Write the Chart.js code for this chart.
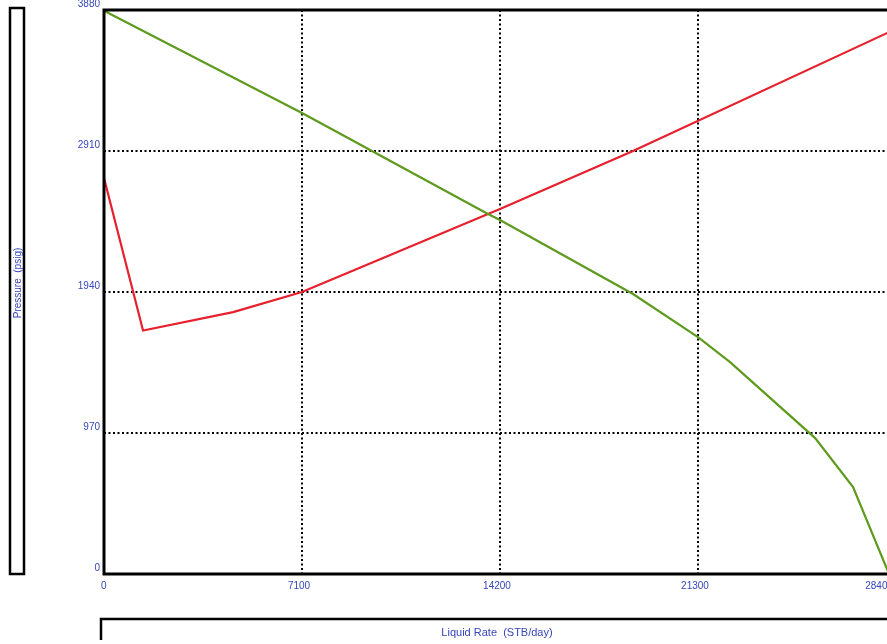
<!DOCTYPE html>
<html>
<head>
<meta charset="utf-8">
<script src="https://cdn.jsdelivr.net/npm/chart.js@4/dist/chart.umd.min.js"></script>
<style>
  html, body { margin: 0; padding: 0; background: #fff; overflow: hidden; }
  #wrap { position: absolute; left: 0; top: 0; width: 910px; height: 644px; }
</style>
</head>
<body>
<div id="wrap"><canvas id="myChart" width="910" height="644"></canvas></div>
<script>
// tick positions on both axes
const rateTicks = [0, 7100, 14200, 21300, 28400];
const pressureTicks = [0, 970, 1940, 2910, 3880];

// inflow curve (IPR)
const iprRate = [0, 7100, 9610, 13770, 14200, 18970, 21300, 22450, 25500, 26860, 28150];
const iprPressure = [3875, 3171, 2910, 2476, 2435, 1926, 1630, 1458, 935, 598, 0];

// tubing curve (VLP)
const vlpRate = [0, 1400, 4630, 7100, 13770, 14200, 18970, 28400];
const vlpPressure = [2724, 1675, 1802, 1940, 2476, 2511, 2910, 3750];

const blue = '#3546b8';
const labelFont = { family: 'Liberation Sans, Arial, sans-serif', size: 10 };

const toPoints = (xs, ys) => xs.map((x, i) => ({ x: x, y: ys[i] }));

// frame, side boxes and axis titles
const framePlugin = {
    id: 'frame',
    afterDraw(chart) {
        const ctx = chart.ctx;
        const a = chart.chartArea;
        ctx.save();
        ctx.strokeStyle = '#000';
        ctx.lineWidth = 3;
        ctx.beginPath();
        ctx.moveTo(a.right + 20, a.top);
        ctx.lineTo(a.left, a.top);
        ctx.lineTo(a.left, a.bottom);
        ctx.lineTo(a.right + 20, a.bottom);
        ctx.stroke();

        // left title box
        ctx.lineWidth = 2.5;
        ctx.strokeRect(10, 8, 14, 566);
        // bottom title box
        ctx.beginPath();
        ctx.moveTo(101, 640);
        ctx.lineTo(101, 619);
        ctx.lineTo(920, 619);
        ctx.stroke();

        ctx.fillStyle = blue;
        ctx.textAlign = 'center';
        ctx.textBaseline = 'middle';
        ctx.font = '11px "Liberation Sans", Arial, sans-serif';
        ctx.fillText('Liquid Rate  (STB/day)', 497, 633);
        ctx.font = '10px "Liberation Sans", Arial, sans-serif';
        ctx.translate(18, 283);
        ctx.rotate(-Math.PI / 2);
        ctx.fillText('Pressure  (psig)', 0, 0);
        ctx.restore();
    }
};

const ctx = document.getElementById('myChart').getContext('2d');
new Chart(ctx, {
    type: 'scatter',
    data: {
        datasets: [
            {
                label: 'IPR',
                data: toPoints(iprRate, iprPressure),
                showLine: true,
                borderColor: '#5e9a1e',
                borderWidth: 2.2,
                pointRadius: 0,
                tension: 0
            },
            {
                label: 'VLP',
                data: toPoints(vlpRate, vlpPressure),
                showLine: true,
                borderColor: '#e6202c',
                borderWidth: 2.2,
                pointRadius: 0,
                tension: 0
            }
        ]
    },
    options: {
        responsive: false,
        animation: false,
        layout: { padding: { left: 0, top: 10, right: 14, bottom: 0 } },
        plugins: {
            legend: { display: false },
            tooltip: { enabled: false }
        },
        scales: {
            x: {
                type: 'linear',
                min: rateTicks[0],
                max: rateTicks[rateTicks.length - 1],
                afterFit: scale => {
                    scale.height = 70;
                    scale.paddingLeft = 0;
                    scale.paddingRight = 0;
                },
                afterBuildTicks: scale => { scale.ticks = rateTicks.map(v => ({ value: v })); },
                ticks: {
                    color: blue, font: labelFont, padding: 6, maxRotation: 0,
                    align: 'inner', labelOffset: -3,
                    callback: v => String(v)
                },
                grid: { color: '#000', lineWidth: 2, drawTicks: false },
                border: { display: false, dash: [2, 2.5] }
            },
            y: {
                type: 'linear',
                min: pressureTicks[0],
                max: pressureTicks[pressureTicks.length - 1],
                afterFit: scale => {
                    scale.width = 104;
                    scale.paddingTop = 0;
                    scale.paddingBottom = 0;
                },
                afterBuildTicks: scale => { scale.ticks = pressureTicks.map(v => ({ value: v })); },
                ticks: {
                    color: blue, font: labelFont, padding: 4, labelOffset: -6,
                    callback: v => String(v)
                },
                grid: { color: '#000', lineWidth: 2, drawTicks: false },
                border: { display: false, dash: [2, 2.5] }
            }
        }
    },
    plugins: [framePlugin]
});
</script>
</body>
</html>
